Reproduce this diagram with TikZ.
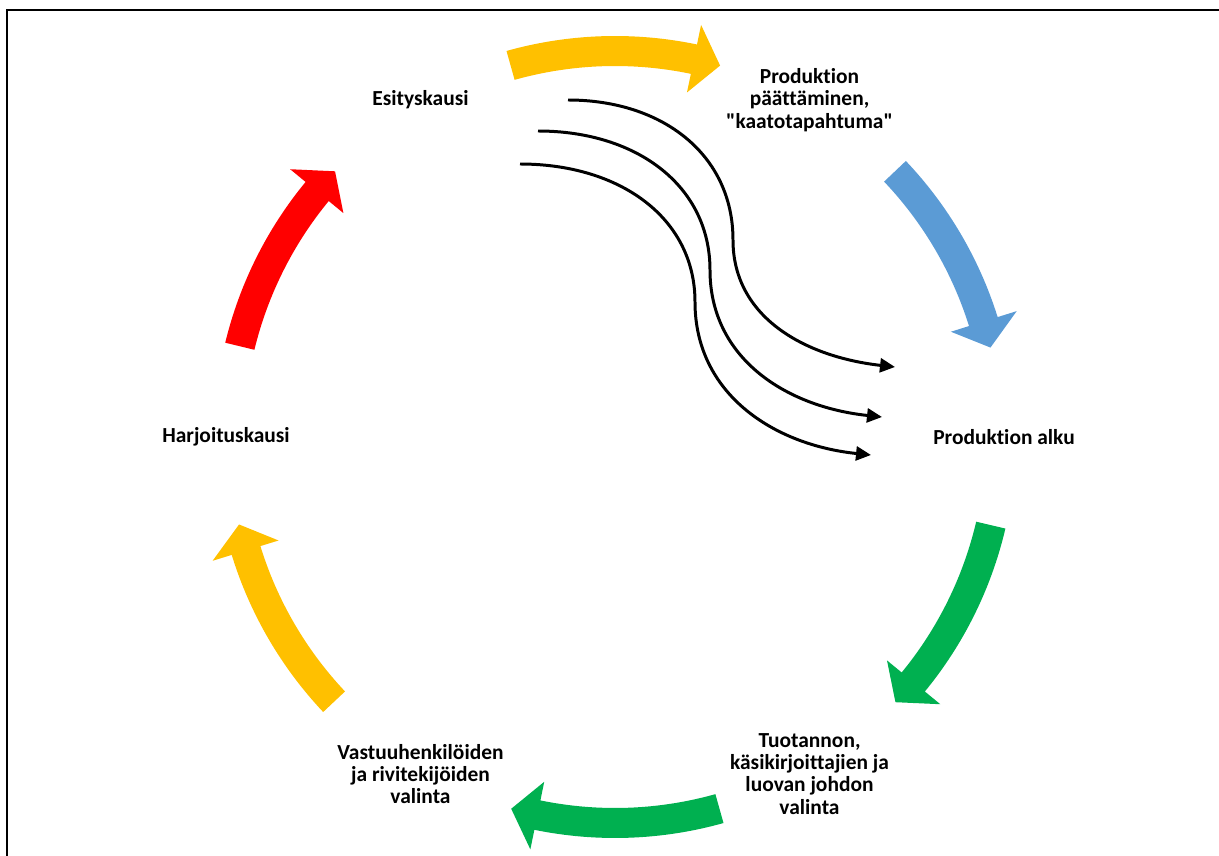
\documentclass[tikz,border=0pt]{standalone}
\usepackage{fontspec}
\setmainfont{Carlito}[Ligatures={TeXOff,CommonOff}]
\usetikzlibrary{arrows.meta}
\definecolor{cycyellow}{HTML}{FFC000}
\definecolor{cycblue}{HTML}{5B9BD5}
\definecolor{cycgreen}{HTML}{00B050}
\definecolor{cycred}{HTML}{FF0000}

\tikzset{
  stage/.style={font=\bfseries\fontsize{12.2}{12.7}\selectfont, align=center},
  flow/.style={line width=1.7pt, -{Triangle[length=3mm,width=2.8mm]}}
}

% block arrow on the cycle: colour, tail angle, tip angle
\newcommand{\cyclearrow}[3]{%
  \pgfmathsetmacro{\headbase}{#3+4}%
  \fill[#1] (#2:401) arc[start angle=#2, end angle=\headbase, radius=401]
    -- (\headbase:421) -- (#3:386) -- (\headbase:352) -- (\headbase:371)
    arc[start angle=\headbase, end angle=#2, radius=371] -- cycle;}

\begin{document}
\begin{tikzpicture}[x=0.02cm, y=0.02cm]
\useasboundingbox (-615,-418) rectangle (604,437);
\draw[line width=1pt] (-608,-420) -- (-608,427) -- (606,427);

% stages
\node[stage] (esitys) at (120:389) {Esityskausi};
\node[stage] (paatos) at (60:389) {Produktion\\päättäminen,\\"kaatotapahtuma"};
\node[stage] (alku) at (0:389) {Produktion alku};
\node[stage] (tuotanto) at (-60:389) {Tuotannon,\\käsikirjoittajien ja\\luovan johdon\\valinta};
\node[stage] (vastuu) at (-120:389) {Vastuuhenkilöiden\\ja rivitekijöiden\\valinta};
\node[stage] (harjoitus) at (180:389) {Harjoituskausi};

% cycle arrows
\cyclearrow{cycyellow}{105.7}{74.2}
\cyclearrow{cycblue}{43.5}{13.4}
\cyclearrow{cycgreen}{-13.2}{-43.4}
\cyclearrow{cycgreen}{-74.3}{-105.6}
\cyclearrow{cycyellow}{-136.7}{-166.9}
\cyclearrow{cycred}{166.4}{136.5}

% shortcut from the run back to the start
\coordinate (s1) at (-47,337);
\coordinate (m1) at (118,197);
\coordinate (e1) at (280,70);
\coordinate (s2) at (-77,306);
\coordinate (m2) at (95,167);
\coordinate (e2) at (267,20);
\coordinate (s3) at (-95,273);
\coordinate (m3) at (80,135);
\coordinate (e3) at (256,-18);
\draw[flow] (s1) .. controls +(95,0) and +(0,85) .. (m1) .. controls +(0,-78) and +(-89,10) .. (e1);
\draw[flow] (s2) .. controls +(99,0) and +(0,84) .. (m2) .. controls +(0,-89) and +(-95,10) .. (e2);
\draw[flow] (s3) .. controls +(100,0) and +(0,84) .. (m3) .. controls +(0,-92) and +(-97,10) .. (e3);
\end{tikzpicture}
\end{document}
